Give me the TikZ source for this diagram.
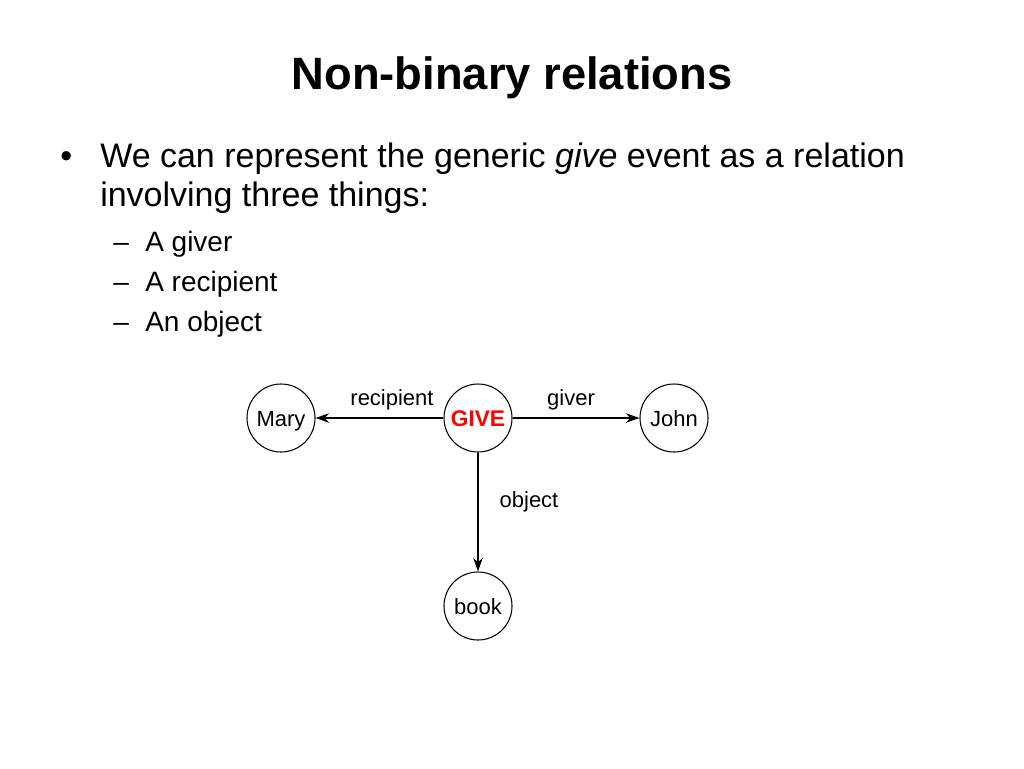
\documentclass[tikz,border=0pt]{standalone}
\usepackage{fontspec}
\setmainfont{Liberation Sans}
\usetikzlibrary{arrows.meta}
\tikzset{x=0.75pt, y=-0.75pt,
    concept/.style={circle, draw, line width=0.8pt, minimum size=51pt, inner sep=0pt, text height=12pt, text depth=0pt, font=\fontsize{16.5}{18}\selectfont},
    rel/.style={line width=1.5pt, -{Stealth[length=10pt, width=7pt, inset=3pt]}},
    rolename/.style={font=\fontsize{16.5}{18}\selectfont, anchor=base},
    slidetext/.style={anchor=base west, inner sep=0pt},
    }

\begin{document}
\begin{tikzpicture}
\useasboundingbox[fill=white] (0,0) rectangle (1024,768);
% heading and bullets
\node[anchor=base, inner sep=0pt, font=\fontsize{34}{40}\bfseries] (title) at (512,89) {Non-binary relations};
\node[slidetext, font=\fontsize{25.5}{30}\selectfont] (dot) at (60,167) {•};
\node[slidetext, font=\fontsize{25.5}{30}\selectfont] (line1) at (100,167) {We can represent the generic \textit{give} event as a relation};
\node[slidetext, font=\fontsize{25.5}{30}\selectfont] (line2) at (100,206) {involving three things:};
\node[slidetext, font=\fontsize{21}{25}\selectfont] (dash1) at (113,251) {–};
\node[slidetext, font=\fontsize{21}{25}\selectfont] (item1) at (145,251) {A giver};
\node[slidetext, font=\fontsize{21}{25}\selectfont] (dash2) at (113,291) {–};
\node[slidetext, font=\fontsize{21}{25}\selectfont] (item2) at (145,291) {A recipient};
\node[slidetext, font=\fontsize{21}{25}\selectfont] (dash3) at (113,331) {–};
\node[slidetext, font=\fontsize{21}{25}\selectfont] (item3) at (145,331) {An object};
% the relation
\node[concept, text=red, font=\fontsize{17}{20}\bfseries] (give) at (478,418) {GIVE};
\node[concept] (mary) at (281,418) {Mary};
\node[concept] (john) at (674,418) {John};
\node[concept] (book) at (478,606) {book};
\draw[rel] (give) -- (mary);
\draw[rel] (give) -- (john);
\draw[rel] (give) -- (book);
\node[rolename] (lrecipient) at (392,405) {recipient};
\node[rolename] (lgiver) at (571,405) {giver};
\node[rolename] (lobject) at (529,507) {object};
\end{tikzpicture}
\end{document}
